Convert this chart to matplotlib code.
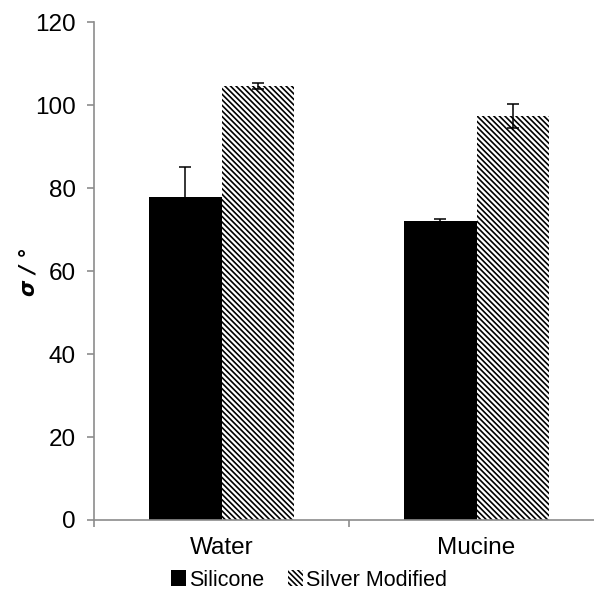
import matplotlib
matplotlib.use("Agg")
import matplotlib.pyplot as plt
import numpy as np

# Contact angle measurements
categories = ["Water", "Mucine"]
series_names = ["Silicone", "Silver Modified"]
silicone = [77.8, 72.2]
silicone_err = [7.3, 0.4]
silver = [104.6, 97.3]
silver_err = [0.8, 2.9]
y_ticks = [0, 20, 40, 60, 80, 100, 120]

plt.rcParams["font.family"] = ["Liberation Sans", "DejaVu Sans"]
plt.rcParams["hatch.linewidth"] = 1.2

grey = "#8c8c8c"
fig = plt.figure(figsize=(5.94, 5.98), dpi=100)
ax = fig.add_axes([94 / 594, 1 - 520 / 598, 510 / 594, (520 - 22.3) / 598])

x = np.arange(len(categories))
w = 0.284
ax.bar(x - w / 2, silicone, w, color="black", linewidth=0, label=series_names[0], zorder=2)
ax.bar(x + w / 2, silver, w, color="white", edgecolor="black", hatch="\\" * 6,
       linewidth=0, label=series_names[1], zorder=2)
ax.errorbar(x - w / 2, silicone, yerr=silicone_err, fmt="none", ecolor="black",
            elinewidth=1.1, capsize=4, capthick=1.1, zorder=3)
ax.errorbar(x + w / 2, silver, yerr=silver_err, fmt="none", ecolor="black",
            elinewidth=1.1, capsize=4, capthick=1.1, zorder=3)

ax.set_xlim(-0.5, 1.5)
ax.set_ylim(0, 120)
ax.set_yticks(y_ticks)
ax.set_xticks(x)
ax.set_xticklabels(categories)
ax.set_xticks([-0.5, 0.5, 1.5], minor=True)

for side in ["top", "right"]:
    ax.spines[side].set_visible(False)
for side in ["left", "bottom"]:
    ax.spines[side].set_color(grey)
    ax.spines[side].set_linewidth(1.2)

ax.tick_params(axis="y", which="major", direction="out", length=5, width=1.2,
               color=grey, labelsize=17.5, pad=8, labelcolor="black")
ax.tick_params(axis="x", which="major", length=0, labelsize=17.5, pad=12,
               labelcolor="black")
ax.tick_params(axis="x", which="minor", direction="out", length=5, width=1.2,
               color=grey)

ax.set_ylabel("σ / °", fontsize=15, fontweight="bold", fontstyle="italic",
              family=["DejaVu Sans"])
ax.yaxis.set_label_coords((38 - 94) / 510, 0.5)

fig.legend(loc="center", bbox_to_anchor=(309 / 594, 1 - 580 / 598), ncol=2,
           frameon=False, fontsize=15.5, handlelength=0.7, handleheight=0.7,
           handletextpad=0.15, columnspacing=1.1)

fig.savefig("out.png", dpi=100)
